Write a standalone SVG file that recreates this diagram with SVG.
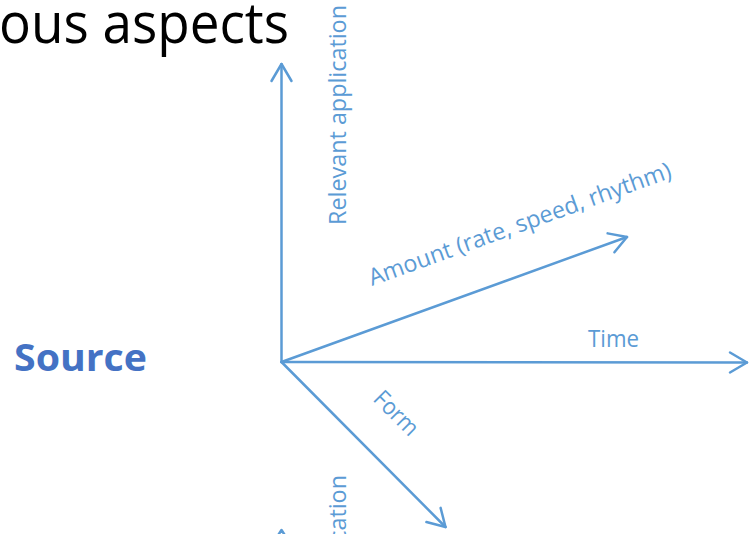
<svg xmlns="http://www.w3.org/2000/svg" width="749" height="534" viewBox="0 0 749 534">
<style>
.ax{fill:none;stroke:#5B9BD5;stroke-width:2.5;stroke-linecap:round;stroke-linejoin:round}
.lbl{font-family:"Open Sans","Noto Sans","Liberation Sans",sans-serif;fill:#5B9BD5;font-size:23.5px}
.title{font-family:"Open Sans","Noto Sans","Liberation Sans",sans-serif;fill:#000000;font-size:57px}
.src{font-family:"Open Sans","Noto Sans","Liberation Sans",sans-serif;fill:#4472C4;font-size:38px;font-weight:bold}
</style>
<defs>
<marker id="arr" markerUnits="userSpaceOnUse" orient="auto" markerWidth="30" markerHeight="30" viewBox="-20 -15 25 30" refX="0" refY="0">
<path d="M-17,-10 L0,0 L-17,10" fill="none" stroke="#5B9BD5" stroke-width="2.5" stroke-linecap="round" stroke-linejoin="round"/>
</marker>
</defs>
<rect width="749" height="534" fill="#ffffff"/>
<text class="title" x="-1" y="43" textLength="290" lengthAdjust="spacingAndGlyphs">ous aspects</text>
<g id="source"><text class="src" x="14" y="371" textLength="133" lengthAdjust="spacingAndGlyphs">Source</text></g>
<g id="connectors">
<line class="ax" x1="281.5" y1="362" x2="281.5" y2="64" marker-end="url(#arr)"/>
<line class="ax" x1="281.5" y1="362" x2="747" y2="362.5" marker-end="url(#arr)"/>
<line class="ax" x1="281.5" y1="362" x2="627" y2="237" marker-end="url(#arr)"/>
<line class="ax" x1="281.5" y1="362" x2="445.5" y2="527" marker-end="url(#arr)"/>
<polyline class="ax" points="275,540 281.5,530 288,540"/>
</g>
<g id="relevant-application"><text class="lbl" transform="translate(346,225) rotate(-90)" textLength="220" lengthAdjust="spacingAndGlyphs">Relevant application</text></g>
<g id="amount"><text class="lbl" transform="translate(372,286) rotate(-19.9)" textLength="320" lengthAdjust="spacingAndGlyphs">Amount (rate, speed, rhythm)</text></g>
<g id="time"><text class="lbl" x="588" y="347" textLength="51" lengthAdjust="spacingAndGlyphs">Time</text></g>
<g id="form"><text class="lbl" transform="translate(372,400) rotate(45)" textLength="53" lengthAdjust="spacingAndGlyphs">Form</text></g>
<g id="application-lower"><text class="lbl" transform="translate(346,695) rotate(-90)" textLength="220" lengthAdjust="spacingAndGlyphs">Relevant application</text></g>
</svg>
